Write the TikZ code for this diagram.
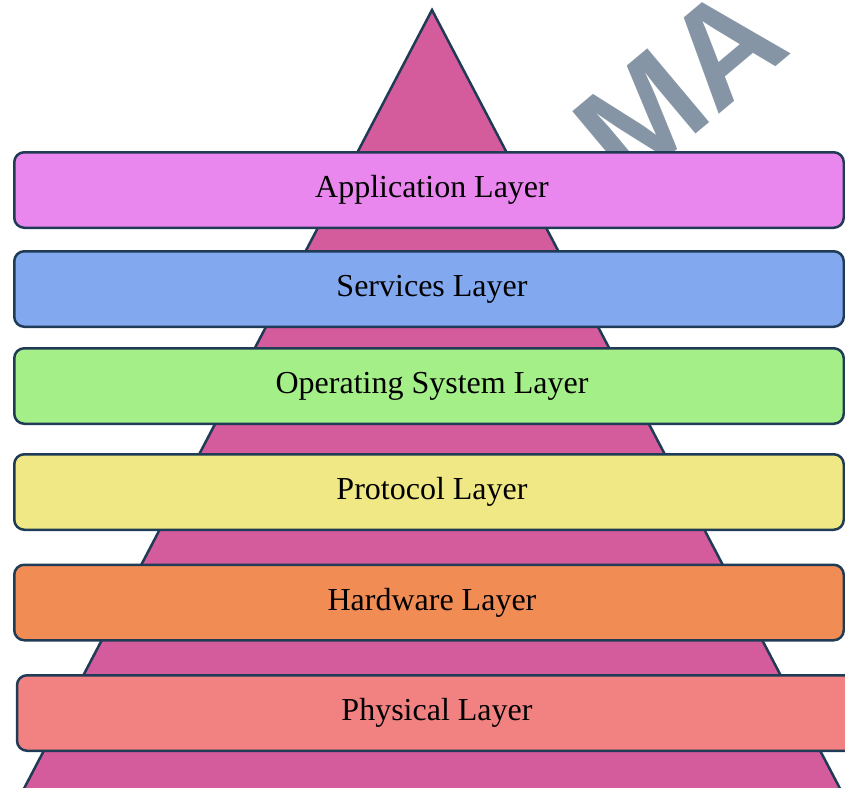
\documentclass[tikz,border=0pt]{standalone}
\usepackage{fontspec}
\setmainfont{Liberation Serif}
\newfontfamily\markfont{Liberation Sans}
\definecolor{edge}{HTML}{1F3B55}
\definecolor{pyramid}{HTML}{D45B9C}
\definecolor{appfill}{HTML}{E987EF}
\definecolor{svcfill}{HTML}{82A8F0}
\definecolor{osfill}{HTML}{A4EF88}
\definecolor{protofill}{HTML}{F0E884}
\definecolor{hwfill}{HTML}{F28C55}
\definecolor{phyfill}{HTML}{F28282}
\definecolor{stamp}{HTML}{8595A5}
\tikzset{
  layerbox/.style={draw=edge, line width=2.5pt, rounded corners=10pt,
    minimum height=75.5pt, inner sep=0pt,
    font=\fontsize{32}{36}\selectfont, text=black},
}
\begin{document}
\begin{tikzpicture}[x=1pt, y=-1pt]
\useasboundingbox (0,0) rectangle (845,787);
\clip (0,0) rectangle (845,787);
% faint stamp in the upper right corner
\node[text=stamp, font=\markfont\bfseries\fontsize{140}{140}\selectfont, rotate=40, anchor=center] (stamp) at (680,85) {MA};
% pyramid behind the layers
\draw[draw=edge, fill=pyramid, line width=2.5pt, line join=miter]
  (432,10) -- (18,800) -- (846,800) -- cycle;
% layer bands
\node[layerbox, fill=appfill, minimum width=829.5pt] (app) at (429,190) {\hspace*{6pt}Application Layer};
\node[layerbox, fill=svcfill, minimum width=829.5pt] (svc) at (429,289) {\hspace*{6pt}Services Layer};
\node[layerbox, fill=osfill, minimum width=829.5pt] (os) at (429,386) {\hspace*{6pt}Operating System Layer};
\node[layerbox, fill=protofill, minimum width=829.5pt] (proto) at (429,492) {\hspace*{6pt}Protocol Layer};
\node[layerbox, fill=hwfill, minimum width=829.5pt] (hw) at (429,602.5) {\hspace*{6pt}Hardware Layer};
\node[layerbox, fill=phyfill, minimum width=840pt] (phy) at (437,713) {Physical Layer};
\end{tikzpicture}
\end{document}
